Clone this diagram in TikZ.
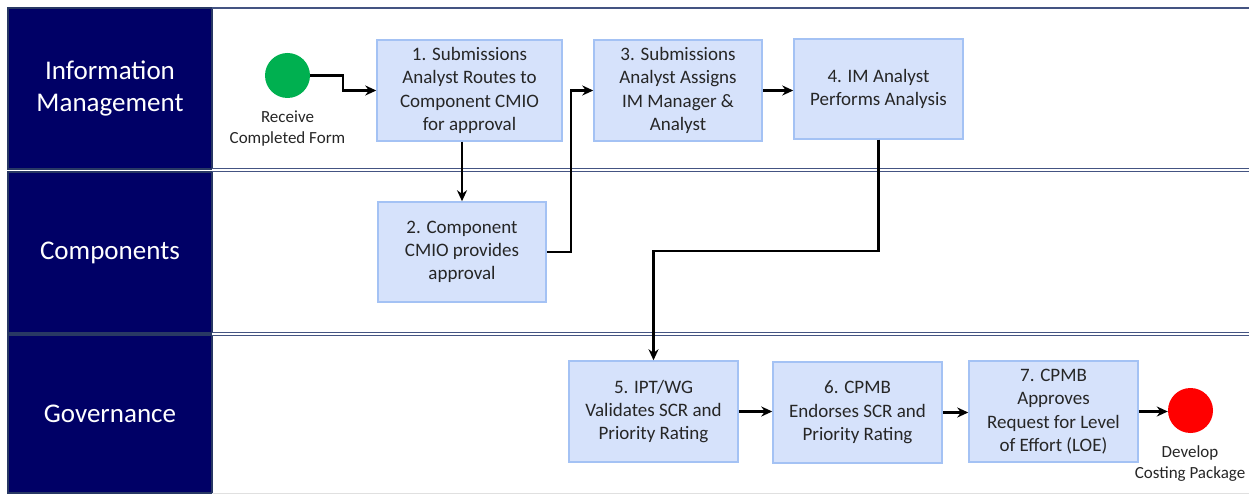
\documentclass[tikz,border=0pt]{standalone}
\usepackage{fontspec}
\setmainfont{Carlito}
\usetikzlibrary{arrows.meta}
\definecolor{navy}{RGB}{0,0,102}
\definecolor{navyedge}{RGB}{40,56,100}
\definecolor{laneline}{RGB}{68,84,130}
\definecolor{boxfill}{RGB}{214,226,251}
\definecolor{boxedge}{RGB}{164,194,244}
\definecolor{startgreen}{RGB}{0,176,80}
\definecolor{endred}{RGB}{255,0,0}
\tikzset{
  lanehead/.style={draw=navyedge, line width=1.2pt, fill=navy, text=white, align=center, inner sep=0pt,
    font=\fontsize{27}{32}\selectfont},
  stepbox/.style={draw=boxedge, line width=1.5pt, fill=boxfill, align=center, inner sep=0pt,
    font=\fontsize{19}{23.3}\selectfont, text=black!85},
  lanesep/.style={draw=laneline, double=white, double distance=2.2pt, line width=1.2pt},
  evt/.style={circle, inner sep=0pt, minimum size=45pt},
  evtlabel/.style={align=center, font=\fontsize{17}{21}\selectfont, text=black!85},
  arr/.style={draw=black, line width=2.6pt, -{Stealth[length=11pt,width=10pt]}},
}
\begin{document}
\begin{tikzpicture}[x=1pt,y=-1pt]
\useasboundingbox (0,0) rectangle (1249,494);
% lane headers
\node[lanehead, minimum width=204pt, minimum height=161pt] (hIM) at (110,88.5) {Information\\Management};
\node[lanehead, minimum width=204pt, minimum height=161pt] (hCO) at (110,252.5) {Components};
\node[lanehead, minimum width=204pt, minimum height=158pt] (hGO) at (110,414) {Governance};
% lane lines
\draw[laneline, line width=2pt] (212,8) -- (1249,8);
\draw[lanesep] (212,170) -- (1249,170);
\draw[lanesep] (212,334) -- (1249,334);
\draw[black!12, line width=1pt] (212,493) -- (1249,493);
% events
\node[evt, fill=startgreen] (start) at (287.5,75.5) {};
\node[evtlabel] (startlbl) at (287.5,128.5) {Receive\\Completed Form};
\node[evt, fill=endred] (stop) at (1190.5,410.5) {};
\node[evtlabel] (stoplbl) at (1190,463.5) {Develop\\Costing Package};
% steps
\node[stepbox, minimum width=185pt, minimum height=101pt] (b1) at (469.5,90.5) {1. Submissions\\Analyst Routes to\\Component CMIO\\for approval};
\node[stepbox, minimum width=168pt, minimum height=100pt] (b2) at (462,252) {2. Component\\CMIO provides\\approval};
\node[stepbox, minimum width=168pt, minimum height=101pt] (b3) at (678,90.5) {3. Submissions\\Analyst Assigns\\IM Manager \&\\Analyst};
\node[stepbox, minimum width=169pt, minimum height=100pt] (b4) at (878.5,89) {4. IM Analyst\\Performs Analysis};
\node[stepbox, minimum width=169pt, minimum height=101pt] (b5) at (653.5,411.5) {5. IPT/WG\\Validates SCR and\\Priority Rating};
\node[stepbox, minimum width=169pt, minimum height=101pt] (b6) at (857.5,412.5) {6. CPMB\\Endorses SCR and\\Priority Rating};
\node[stepbox, minimum width=169pt, minimum height=101pt] (b7) at (1053.5,411.5) {7. CPMB\\Approves\\Request for Level\\of Effort (LOE)};
% bend points
\coordinate (c1) at (343,90.5);
\coordinate (c2) at (571,90.5);
\coordinate (c4) at (653.5,251);
% connectors
\draw[arr] (start.east) -| (c1) -- (b1.west);
\draw[arr] (b2.north |- b1.south) -- (b2.north);
\draw[arr] (b2.east) -| (c2) -- (b3.west);
\draw[arr] (b3.east) -- (b4.west |- b3.east);
\draw[arr] (b4.south) |- (c4) -- (b5.north);
\draw[arr] (b5.east) -- (b6.west |- b5.east);
\draw[arr] (b6.east) -- (b7.west |- b6.east);
\draw[arr] (b7.east) -- (stop.west |- b7.east);
\end{tikzpicture}
\end{document}
